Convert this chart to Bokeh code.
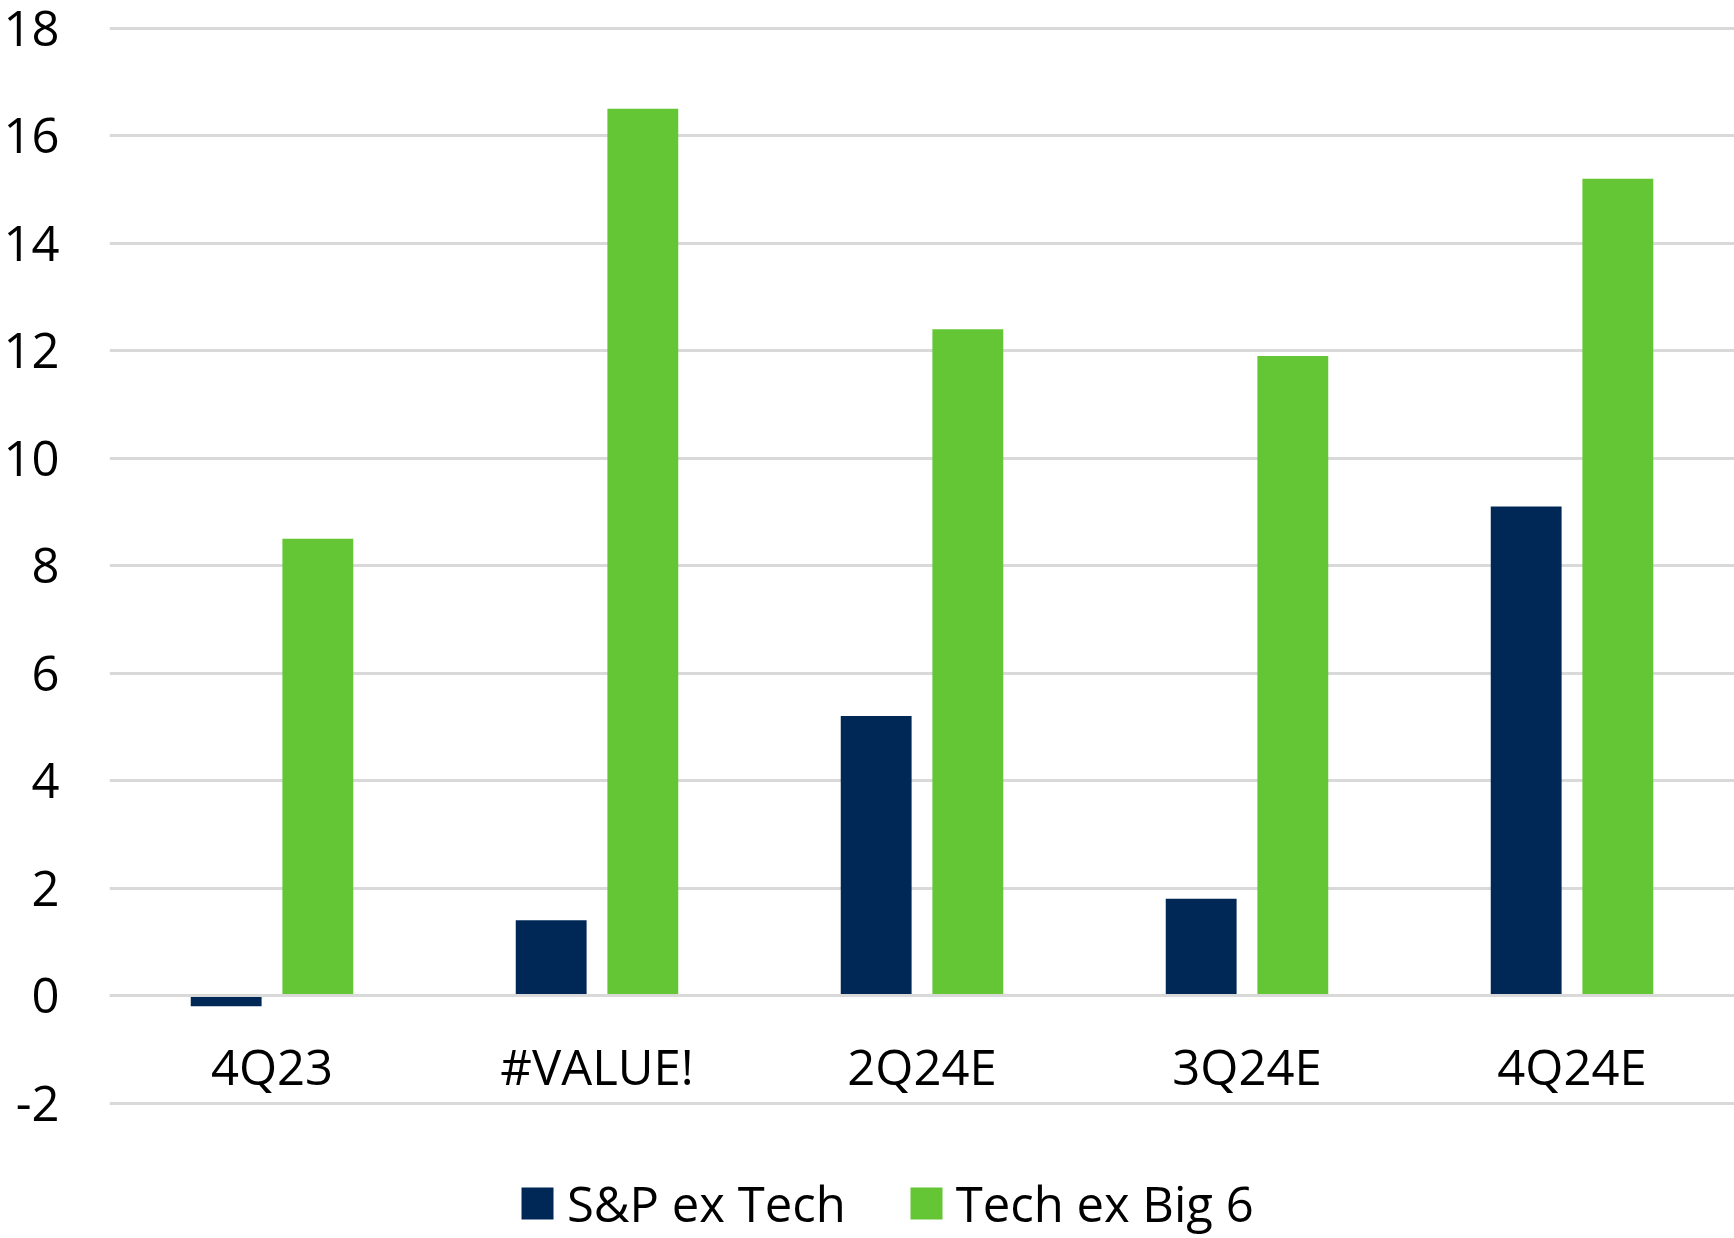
from bokeh.plotting import figure
from bokeh.models import (Range1d, FactorRange, ColumnDataSource, Legend, LegendItem,
                          FixedTicker, PrintfTickFormatter)
from bokeh.transform import dodge
from bokeh.embed import file_html
from bokeh.resources import INLINE

categories = ["4Q23", "#VALUE!", "2Q24E", "3Q24E", "4Q24E"]
sp_ex_tech = [-0.2, 1.4, 5.2, 1.8, 9.1]
tech_ex_big6 = [8.5, 16.5, 12.4, 11.9, 15.2]
y_ticks = [-2, 0, 2, 4, 6, 8, 10, 12, 14, 16, 18]

NAVY = "#002856"
GREEN = "#64c634"
FONT = "Open Sans"

src = ColumnDataSource(dict(cat=categories, sp=sp_ex_tech, tech=tech_ex_big6))

p = figure(width=1734, height=1238, output_backend="svg", toolbar_location=None,
           x_range=FactorRange(*categories, range_padding=0),
           y_range=Range1d(-4.52, 18.05),
           min_border_left=108, min_border_right=0, min_border_top=25, min_border_bottom=0)
p.outline_line_color = None
p.background_fill_color = "white"
p.border_fill_color = "white"

r1 = p.vbar(x=dodge("cat", -0.141, range=p.x_range), top="sp", bottom=0, width=0.218,
            source=src, fill_color=NAVY, line_color=None)
r2 = p.vbar(x=dodge("cat", 0.141, range=p.x_range), top="tech", bottom=0, width=0.218,
            source=src, fill_color=GREEN, line_color=None)

# grid
p.xgrid.grid_line_color = None
p.ygrid.grid_line_color = "#d9d9d9"
p.ygrid.grid_line_width = 3
p.yaxis.ticker = FixedTicker(ticks=y_ticks)
p.yaxis.formatter = PrintfTickFormatter(format="%d")

# y axis
p.yaxis.axis_line_color = None
p.yaxis.major_tick_line_color = None
p.yaxis.minor_tick_line_color = None
p.yaxis.major_tick_out = 0
p.yaxis.major_tick_in = 0
p.yaxis.major_label_standoff = 50
p.yaxis.major_label_text_font = FONT
p.yaxis.major_label_text_font_size = "49px"
p.yaxis.major_label_text_color = "#000000"

# x axis drawn at zero
p.xaxis.fixed_location = 0
p.xaxis.axis_line_color = "#d9d9d9"
p.xaxis.axis_line_width = 3
p.xaxis.major_tick_line_color = None
p.xaxis.minor_tick_line_color = None
p.xaxis.major_tick_out = 0
p.xaxis.major_tick_in = 0
p.xaxis.major_label_standoff = 37
p.xaxis.major_label_text_font = FONT
p.xaxis.major_label_text_font_size = "49px"
p.xaxis.major_label_text_color = "#000000"

legend = Legend(items=[LegendItem(label="S&P ex Tech", renderers=[r1]),
                       LegendItem(label="Tech ex Big 6", renderers=[r2])],
                orientation="horizontal", location=(408, 2))
legend.padding = 0
legend.margin = 0
legend.border_line_color = None
legend.background_fill_alpha = 0
legend.glyph_width = 40
legend.glyph_height = 40
legend.label_standoff = 10
legend.spacing = 60
legend.label_text_font = FONT
legend.label_text_font_size = "49px"
legend.label_text_color = "#000000"
p.add_layout(legend, "center")

open("out.html", "w").write(file_html(p, INLINE))
